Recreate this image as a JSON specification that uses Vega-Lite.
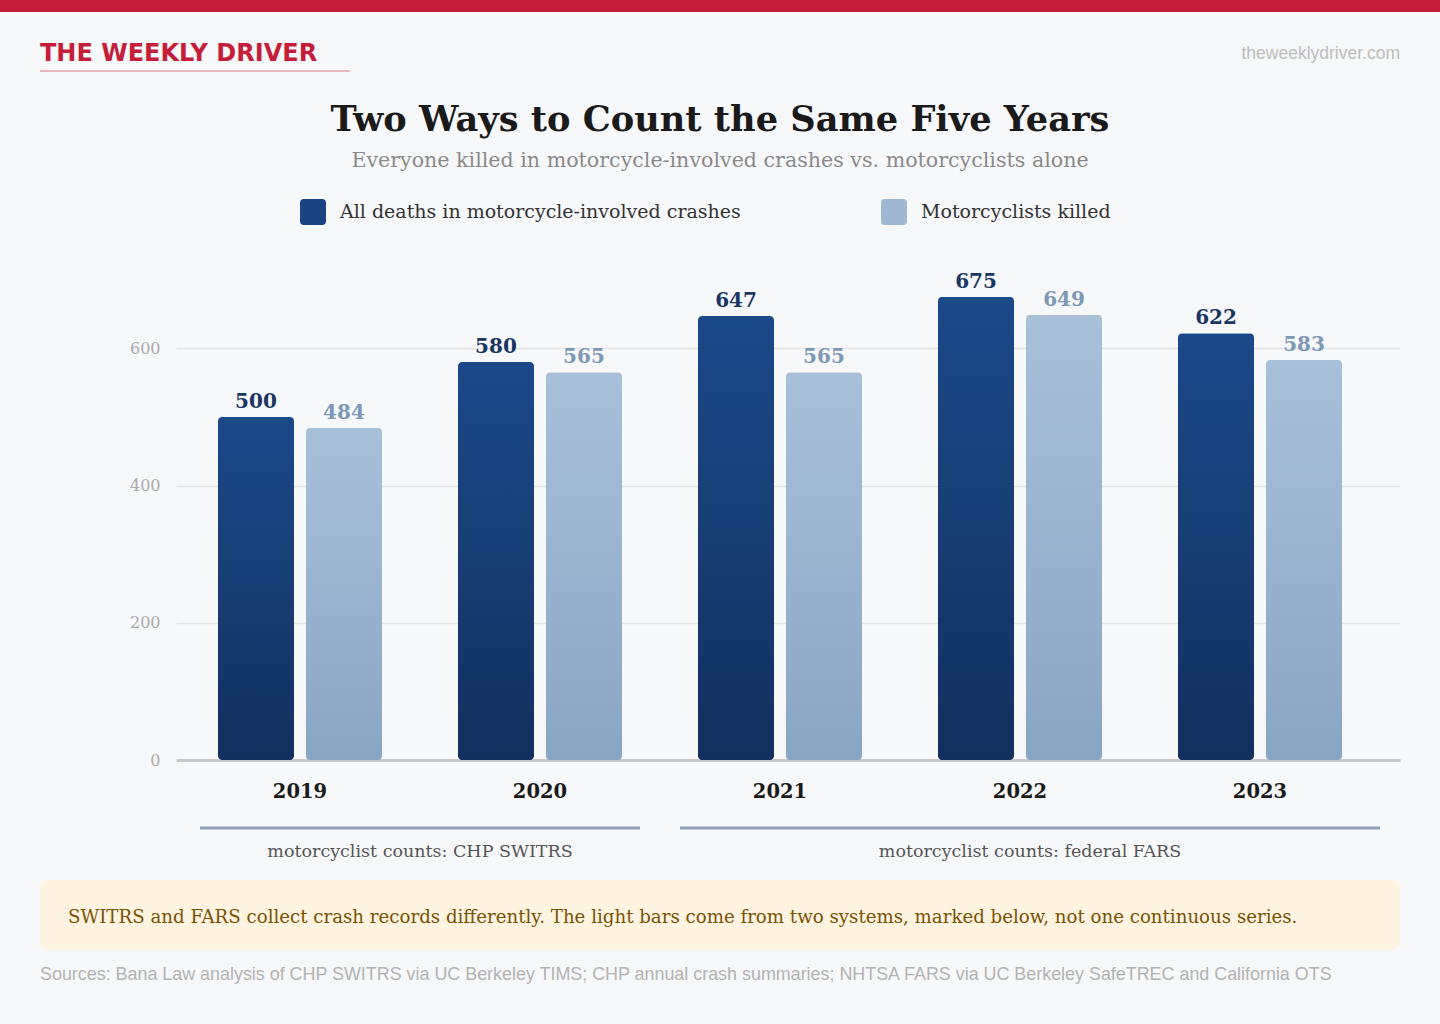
{
  "$schema": "https://vega.github.io/schema/vega-lite/v6.json",
  "width": 1224,
  "height": 494,
  "autosize": {"type": "none"},
  "padding": {"left": 176, "top": 266, "right": 40, "bottom": 264},
  "background": "#f7f8fa",
  "config": {"view": {"stroke": null}},
  "datasets": {
    "bars": [
      {"year": "2019", "series": "All deaths in motorcycle-involved crashes", "value": 500},
      {"year": "2019", "series": "Motorcyclists killed", "value": 484},
      {"year": "2020", "series": "All deaths in motorcycle-involved crashes", "value": 580},
      {"year": "2020", "series": "Motorcyclists killed", "value": 565},
      {"year": "2021", "series": "All deaths in motorcycle-involved crashes", "value": 647},
      {"year": "2021", "series": "Motorcyclists killed", "value": 565},
      {"year": "2022", "series": "All deaths in motorcycle-involved crashes", "value": 675},
      {"year": "2022", "series": "Motorcyclists killed", "value": 649},
      {"year": "2023", "series": "All deaths in motorcycle-involved crashes", "value": 622},
      {"year": "2023", "series": "Motorcyclists killed", "value": 583}
    ],
    "brackets": [
      {"source": "SWITRS", "start": "2019", "end": "2020", "label": "motorcyclist counts: CHP SWITRS"},
      {"source": "FARS", "start": "2021", "end": "2023", "label": "motorcyclist counts: federal FARS"}
    ]
  },
  "data": {"name": "bars"},
  "layer": [
    {
      "data": {"values": [{"part": "top bar"}]},
      "mark": {"type": "rect", "x": -176, "x2": 1264, "y": -266, "y2": -254, "fill": "#c41e3a"},
      "encoding": {}
    },
    {
      "data": {"values": [{"label": "THE WEEKLY DRIVER"}]},
      "mark": {"type": "text", "x": -136, "y": -205, "align": "left", "baseline": "alphabetic", "font": "DejaVu Sans", "fontSize": 24, "fontWeight": "bold", "color": "#c41e3a"},
      "encoding": {"text": {"field": "label"}}
    },
    {
      "data": {"values": [{"part": "brand underline"}]},
      "mark": {"type": "rect", "x": -136, "x2": 174, "y": -196, "y2": -194, "fill": "#e9b8c2"},
      "encoding": {}
    },
    {
      "data": {"values": [{"label": "theweeklydriver.com"}]},
      "mark": {"type": "text", "x": 1224, "y": -207, "align": "right", "baseline": "alphabetic", "font": "Liberation Sans", "fontSize": 17.5, "color": "#bdbdbd"},
      "encoding": {"text": {"field": "label"}}
    },
    {
      "data": {"values": [{"label": "Two Ways to Count the Same Five Years"}]},
      "mark": {"type": "text", "x": 544, "y": -135, "align": "center", "baseline": "alphabetic", "font": "DejaVu Serif", "fontSize": 35.2, "fontWeight": "bold", "color": "#1a1a1a"},
      "encoding": {"text": {"field": "label"}}
    },
    {
      "data": {"values": [{"label": "Everyone killed in motorcycle-involved crashes vs. motorcyclists alone"}]},
      "mark": {"type": "text", "x": 544, "y": -99, "align": "center", "baseline": "alphabetic", "font": "DejaVu Serif", "fontSize": 20.6, "color": "#8a8a8a"},
      "encoding": {"text": {"field": "label"}}
    },
    {
      "data": {"values": [{"part": "note box"}]},
      "mark": {"type": "rect", "x": -136, "x2": 1224, "y": 614, "y2": 684, "fill": "#fff3e2", "cornerRadius": 8},
      "encoding": {}
    },
    {
      "data": {"values": [{"label": "SWITRS and FARS collect crash records differently. The light bars come from two systems, marked below, not one continuous series."}]},
      "mark": {"type": "text", "x": -108, "y": 652, "align": "left", "baseline": "middle", "font": "DejaVu Serif", "fontSize": 18.2, "color": "#7a5200"},
      "encoding": {"text": {"field": "label"}}
    },
    {
      "data": {"values": [{"label": "Sources: Bana Law analysis of CHP SWITRS via UC Berkeley TIMS; CHP annual crash summaries; NHTSA FARS via UC Berkeley SafeTREC and California OTS"}]},
      "mark": {"type": "text", "x": -136, "y": 709, "align": "left", "baseline": "middle", "font": "Liberation Sans", "fontSize": 17.9, "color": "#b3b3b3"},
      "encoding": {"text": {"field": "label"}}
    },
    {
      "mark": {"type": "bar", "cornerRadius": 4},
      "encoding": {
        "x": {
          "field": "year", "type": "nominal",
          "scale": {"paddingInner": 0.31667, "paddingOuter": 0.20833, "align": 0.42},
          "axis": {"title": null, "domain": false, "ticks": false, "labelFont": "DejaVu Serif", "labelFontSize": 19.5, "labelFontWeight": "bold", "labelColor": "#1a1a1a", "labelPadding": 22, "labelAngle": 0}
        },
        "xOffset": {"field": "series", "type": "nominal", "scale": {"paddingInner": 0.13636, "paddingOuter": 0}},
        "y": {
          "field": "value", "type": "quantitative",
          "scale": {"domain": [0, 720], "nice": false},
          "axis": {
            "title": null, "values": [0, 200, 400, 600], "domain": false, "ticks": false,
            "labelFont": "DejaVu Serif", "labelFontSize": 16, "labelColor": "#aaaaaa", "labelPadding": 16,
            "grid": true,
            "gridColor": {"condition": {"test": "datum.value === 0", "value": "#c8c8c8"}, "value": "#e4e4e4"},
            "gridWidth": {"condition": {"test": "datum.value === 0", "value": 3}, "value": 1.5}
          }
        },
        "fill": {
          "condition": {
            "test": "datum.series === 'All deaths in motorcycle-involved crashes'",
            "value": {"gradient": "linear", "x1": 0, "y1": 0, "x2": 0, "y2": 1, "stops": [{"offset": 0, "color": "#1b4a8a"}, {"offset": 1, "color": "#12305e"}]}
          },
          "value": {"gradient": "linear", "x1": 0, "y1": 0, "x2": 0, "y2": 1, "stops": [{"offset": 0, "color": "#a9c0da"}, {"offset": 1, "color": "#8aa5c4"}]}
        }
      }
    },
    {
      "mark": {"type": "bar", "opacity": 0},
      "encoding": {
        "x": {"field": "year", "type": "nominal"},
        "xOffset": {"field": "series", "type": "nominal"},
        "y": {"field": "value", "type": "quantitative"},
        "color": {
          "field": "series", "type": "nominal",
          "scale": {"range": ["#1a4582", "#9fb7d3"]},
          "legend": {
            "title": null, "orient": "none", "legendX": 124, "legendY": -67, "direction": "horizontal",
            "padding": 0, "symbolType": "M-1,-0.7Q-1,-1,-0.7,-1L0.7,-1Q1,-1,1,-0.7L1,0.7Q1,1,0.7,1L-0.7,1Q-1,1,-1,0.7Z",
            "symbolSize": 676, "symbolOpacity": 1, "symbolStrokeWidth": 0,
            "labelFont": "DejaVu Serif", "labelFontSize": 19, "labelColor": "#333333", "labelOffset": 14, "labelLimit": 600,
            "columnPadding": 140
          }
        }
      }
    },
    {
      "mark": {"type": "text", "font": "DejaVu Serif", "fontSize": 20, "fontWeight": "bold", "baseline": "alphabetic", "dy": -9},
      "encoding": {
        "x": {"field": "year", "type": "nominal"},
        "xOffset": {"field": "series", "type": "nominal"},
        "y": {"field": "value", "type": "quantitative"},
        "text": {"field": "value", "type": "quantitative"},
        "color": {"condition": {"test": "datum.series === 'All deaths in motorcycle-involved crashes'", "value": "#1a3764"}, "value": "#7f98b8"}
      }
    },
    {
      "data": {"name": "brackets"},
      "transform": [{"filter": "datum.source === 'SWITRS'"}],
      "layer": [
        {
          "mark": {"type": "rule", "y": {"expr": "height + 68"}, "xOffset": -100, "x2Offset": 100, "stroke": "#8fa3ba", "strokeWidth": 3},
          "encoding": {"x": {"field": "start", "type": "nominal", "bandPosition": 0.5}, "x2": {"field": "end"}}
        },
        {
          "mark": {"type": "text", "y": {"expr": "height + 92"}, "dx": 120, "baseline": "middle", "align": "center", "font": "DejaVu Serif", "fontSize": 17.5, "color": "#555555"},
          "encoding": {"x": {"field": "start", "type": "nominal", "bandPosition": 0.5}, "text": {"field": "label"}}
        }
      ]
    },
    {
      "data": {"name": "brackets"},
      "transform": [{"filter": "datum.source === 'FARS'"}],
      "layer": [
        {
          "mark": {"type": "rule", "y": {"expr": "height + 68"}, "xOffset": -100, "x2Offset": 120, "stroke": "#8fa3ba", "strokeWidth": 3},
          "encoding": {"x": {"field": "start", "type": "nominal", "bandPosition": 0.5}, "x2": {"field": "end"}}
        },
        {
          "mark": {"type": "text", "y": {"expr": "height + 92"}, "dx": 250, "baseline": "middle", "align": "center", "font": "DejaVu Serif", "fontSize": 17.5, "color": "#555555"},
          "encoding": {"x": {"field": "start", "type": "nominal", "bandPosition": 0.5}, "text": {"field": "label"}}
        }
      ]
    }
  ]
}
